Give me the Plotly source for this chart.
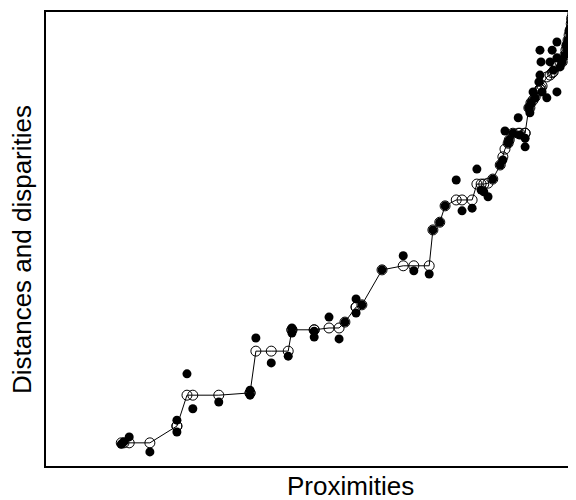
import plotly.graph_objects as go

# Shepard diagram data (arbitrary units, 0-100 scale)
px = [121,124,129,150,177,177,187,193,219,250,250,256,271,288,292,292,314,314,329,339,
      345,356,356,362,382,403,414,429,433,440,445,456,462,472,477,481,484,488,493,500,
      503,505,508,509,513,518,520,525,525,529,530,531,533,535,539,540,540,541,542,547,
      550,552,553,557,557,557,560,562,565,566,567,568,568,569,570,570,571,572,572,573,
      574,574,575,575,576]
disp_py = [443,443,443,443,426,426,395,395,395,393,393,351,351,351,330,330,330,330,328,328,
           322,307,307,305,270,266,266,266,230,222,206,200,200,200,184,184,184,183,179,165,
           157,149,143,140,133,133,133,133,133,108,108,103,100,97,91,89,89,88,86,77,
           75,73,72,66,66,66,63,62,55,50,48,44,40,35,31,30,24,20,18,14,
           12,11,10,9,8]
dist_py = [444,442,437,452,420,432,374,409,402,390,395,338,363,356,328,333,331,337,317,339,
           322,299,313,305,270,256,271,274,230,222,206,180,211,208,169,190,192,197,179,165,
           160,131,143,140,133,118,135,138,147,108,113,103,92,98,82,75,50,62,92,98,
           62,50,70,58,92,42,67,62,55,45,48,52,40,32,38,28,22,28,18,14,
           20,11,16,9,12]

proximities = [round((p - 46) / 5.3, 1) for p in px]
disparities = [round((466 - p) / 4.54, 1) for p in disp_py]
distances = [round((466 - p) / 4.54, 1) for p in dist_py]

fig = go.Figure()
fig.add_trace(go.Scatter(x=proximities, y=distances, mode="markers",
                         marker=dict(color="black", size=9, symbol="circle"),
                         showlegend=False))
fig.add_trace(go.Scatter(x=proximities, y=disparities, mode="lines+markers",
                         line=dict(color="black", width=1),
                         marker=dict(color="black", size=10, symbol="circle-open",
                                     line=dict(width=1)),
                         showlegend=False))

fig.update_layout(
    width=568, height=492,
    margin=dict(l=38, r=0, t=4, b=34),
    paper_bgcolor="white", plot_bgcolor="white",
    font=dict(family="Liberation Sans, Arial, sans-serif", color="black"),
    xaxis=dict(range=[0, 100], showgrid=False, zeroline=False, showticklabels=False,
               ticks="", showline=True, mirror=True, linecolor="black", linewidth=1.5),
    yaxis=dict(range=[0, 100], showgrid=False, zeroline=False, showticklabels=False,
               ticks="", showline=True, mirror=False, linecolor="black", linewidth=1.5),
    annotations=[
        dict(text="Proximities", xref="paper", yref="paper", x=0.5736, y=-0.045,
             showarrow=False, font=dict(size=26), xanchor="center", yanchor="middle"),
        dict(text="Distances and disparities", xref="paper", yref="paper", x=-0.045,
             y=0.476, showarrow=False, textangle=-90, font=dict(size=26),
             xanchor="center", yanchor="middle"),
    ],
)
fig.write_html("out.html")
